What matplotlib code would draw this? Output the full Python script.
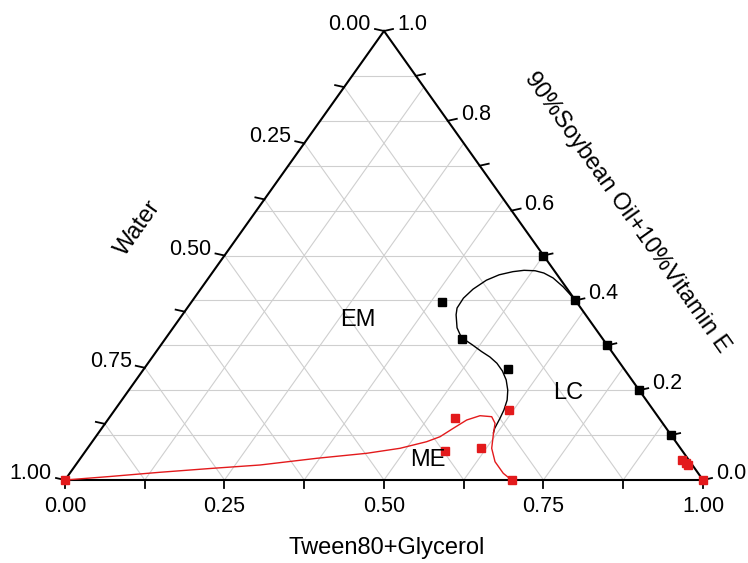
import numpy as np
import matplotlib
matplotlib.use("Agg")
import matplotlib.pyplot as plt

plt.rcParams['font.family'] = ['Liberation Sans', 'DejaVu Sans']

# ---------------- data (ternary fractions: tween, oil; water = 1 - tween - oil)
black_tween = [0.50, 0.60, 0.70, 0.80, 0.90, 0.393, 0.466, 0.571]
black_oil = [0.50, 0.40, 0.30, 0.20, 0.10, 0.396, 0.314, 0.247]

red_tween = [0.0, 1.0, 0.945, 0.955, 0.96, 0.543, 0.617, 0.563, 0.617, 0.70]
red_oil = [0.0, 0.0, 0.045, 0.038, 0.033, 0.137, 0.157, 0.065, 0.071, 0.0]

black_curve_tween = [0.600, 0.566, 0.540, 0.520, 0.504, 0.486, 0.470, 0.452, 0.438,
                     0.427, 0.422, 0.423, 0.429, 0.445, 0.458, 0.471, 0.488, 0.510,
                     0.529, 0.547, 0.564, 0.580, 0.594, 0.604, 0.610, 0.613, 0.616, 0.619]
black_curve_oil = [0.400, 0.430, 0.450, 0.461, 0.466, 0.467, 0.464, 0.457, 0.445,
                   0.425, 0.405, 0.383, 0.368, 0.339, 0.323, 0.312, 0.301, 0.286,
                   0.274, 0.260, 0.243, 0.223, 0.200, 0.178, 0.156, 0.138, 0.115, 0.105]

red_curve_tween = [0.0, 0.0666, 0.1403, 0.2145, 0.2889, 0.3703, 0.4432, 0.4898, 0.5242,
                   0.5396, 0.551, 0.5628, 0.5789, 0.5983, 0.6109, 0.6212, 0.6335,
                   0.6536, 0.6795, 0.70]
red_curve_oil = [0.0, 0.0078, 0.0172, 0.0256, 0.0334, 0.0483, 0.0595, 0.0706, 0.0853,
                 0.0964, 0.1151, 0.1336, 0.1432, 0.141, 0.1263, 0.1002, 0.0706,
                 0.0408, 0.0149, 0.0]

bottom_labels = ["0.00", "0.25", "0.50", "0.75", "1.00"]
left_labels = ["0.00", "0.25", "0.50", "0.75", "1.00"]
right_labels = ["0.0", "0.2", "0.4", "0.6", "0.8", "1.0"]

region_labels = ["EM", "LC", "ME"]
region_tween = [0.281, 0.691, 0.547]
region_oil = [0.356, 0.194, 0.0445]

RED = '#e31a1c'


def to_xy(t, o):
    t = np.asarray(t, float)
    o = np.asarray(o, float)
    return t + o / 2.0, o


W, H = 638.0, 449.0
X0, Y0 = 65.0, 480.0
fig = plt.figure(figsize=(7.48, 5.63), dpi=100)
ax = fig.add_axes([0, 0, 1, 1])
ax.set_xlim(-X0 / W, (748 - X0) / W)
ax.set_ylim((Y0 - 563) / H, Y0 / H)
ax.axis('off')

px = 1.0 / W
py = 1.0 / H

grid_kw = dict(color='#cfcfcf', lw=0.8, zorder=1)
# horizontal grid (oil every 0.1)
for k in range(1, 10):
    o = k / 10
    ax.plot([o / 2, 1 - o / 2], [o, o], **grid_kw)
# constant tween and constant water lines every 0.125
for k in range(1, 8):
    v = k / 8
    ax.plot([v, v + (1 - v) / 2], [0, 1 - v], **grid_kw)
    ax.plot([(1 - v) / 2, 1 - v], [1 - v, 0], **grid_kw)

# triangle
ax.plot([0, 1, 0.5, 0], [0, 0, 1, 0], color='black', lw=1.5, zorder=3,
        solid_joinstyle='miter')

fs = 15.5
tfs = 17
# bottom ticks
for k in range(9):
    t = k / 8
    ax.plot([t, t], [0, -8 * py], color='black', lw=1.3, zorder=3)
for i, lab in enumerate(bottom_labels):
    t = i / 4
    ax.text(t, -16 * py, lab, ha='center', va='top', fontsize=fs)

# left ticks (water)
for k in range(9):
    w = k / 8
    o = 1 - w
    x = o / 2
    ax.plot([x, x - 9 * px], [o, o + 2 * py], color='black', lw=1.3, zorder=3)
for i, lab in enumerate(left_labels):
    w = i / 4
    o = 1 - w
    x = o / 2
    ax.text(x - 13 * px, o + 1 * py, lab, ha='right', va='baseline', fontsize=fs)

# right ticks (oil)
for k in range(11):
    o = k / 10
    x = 1 - o / 2
    ax.plot([x, x + 9 * px], [o, o + 2 * py], color='black', lw=1.3, zorder=3)
for i, lab in enumerate(right_labels):
    o = i / 5
    x = 1 - o / 2
    ax.text(x + 13 * px, o + 1 * py, lab, ha='left', va='baseline', fontsize=fs)

ang = np.degrees(np.arctan2(H, W / 2))
# axis titles
ax.text((387 - X0) / W, (Y0 - 548) / H, "Tween80+Glycerol", ha='center', va='center',
        fontsize=tfs)
ax.text((138 - X0) / W, (Y0 - 228) / H, "Water", ha='center', va='center',
        fontsize=tfs, rotation=ang, rotation_mode='anchor')
ax.text((627 - X0) / W, (Y0 - 213) / H, "90%Soybean Oil+10%Vitamin E", ha='center',
        va='center', fontsize=tfs, rotation=-ang, rotation_mode='anchor')

# curves
bx, by = to_xy(black_curve_tween, black_curve_oil)
ax.plot(bx, by, color='black', lw=1.0, zorder=4)
rx, ry = to_xy(red_curve_tween, red_curve_oil)
ax.plot(rx, ry, color=RED, lw=1.0, zorder=4)

# points
x, y = to_xy(black_tween, black_oil)
ax.plot(x, y, 's', color='black', ms=6, zorder=5, clip_on=False)
x, y = to_xy(red_tween, red_oil)
ax.plot(x, y, 's', color=RED, ms=6, zorder=5, clip_on=False)

# region labels
x, y = to_xy(region_tween, region_oil)
for lab, xx, yy in zip(region_labels, x, y):
    ax.text(xx, yy, lab, ha='center', va='center', fontsize=17, zorder=6)

fig.savefig("out.png", dpi=100)
